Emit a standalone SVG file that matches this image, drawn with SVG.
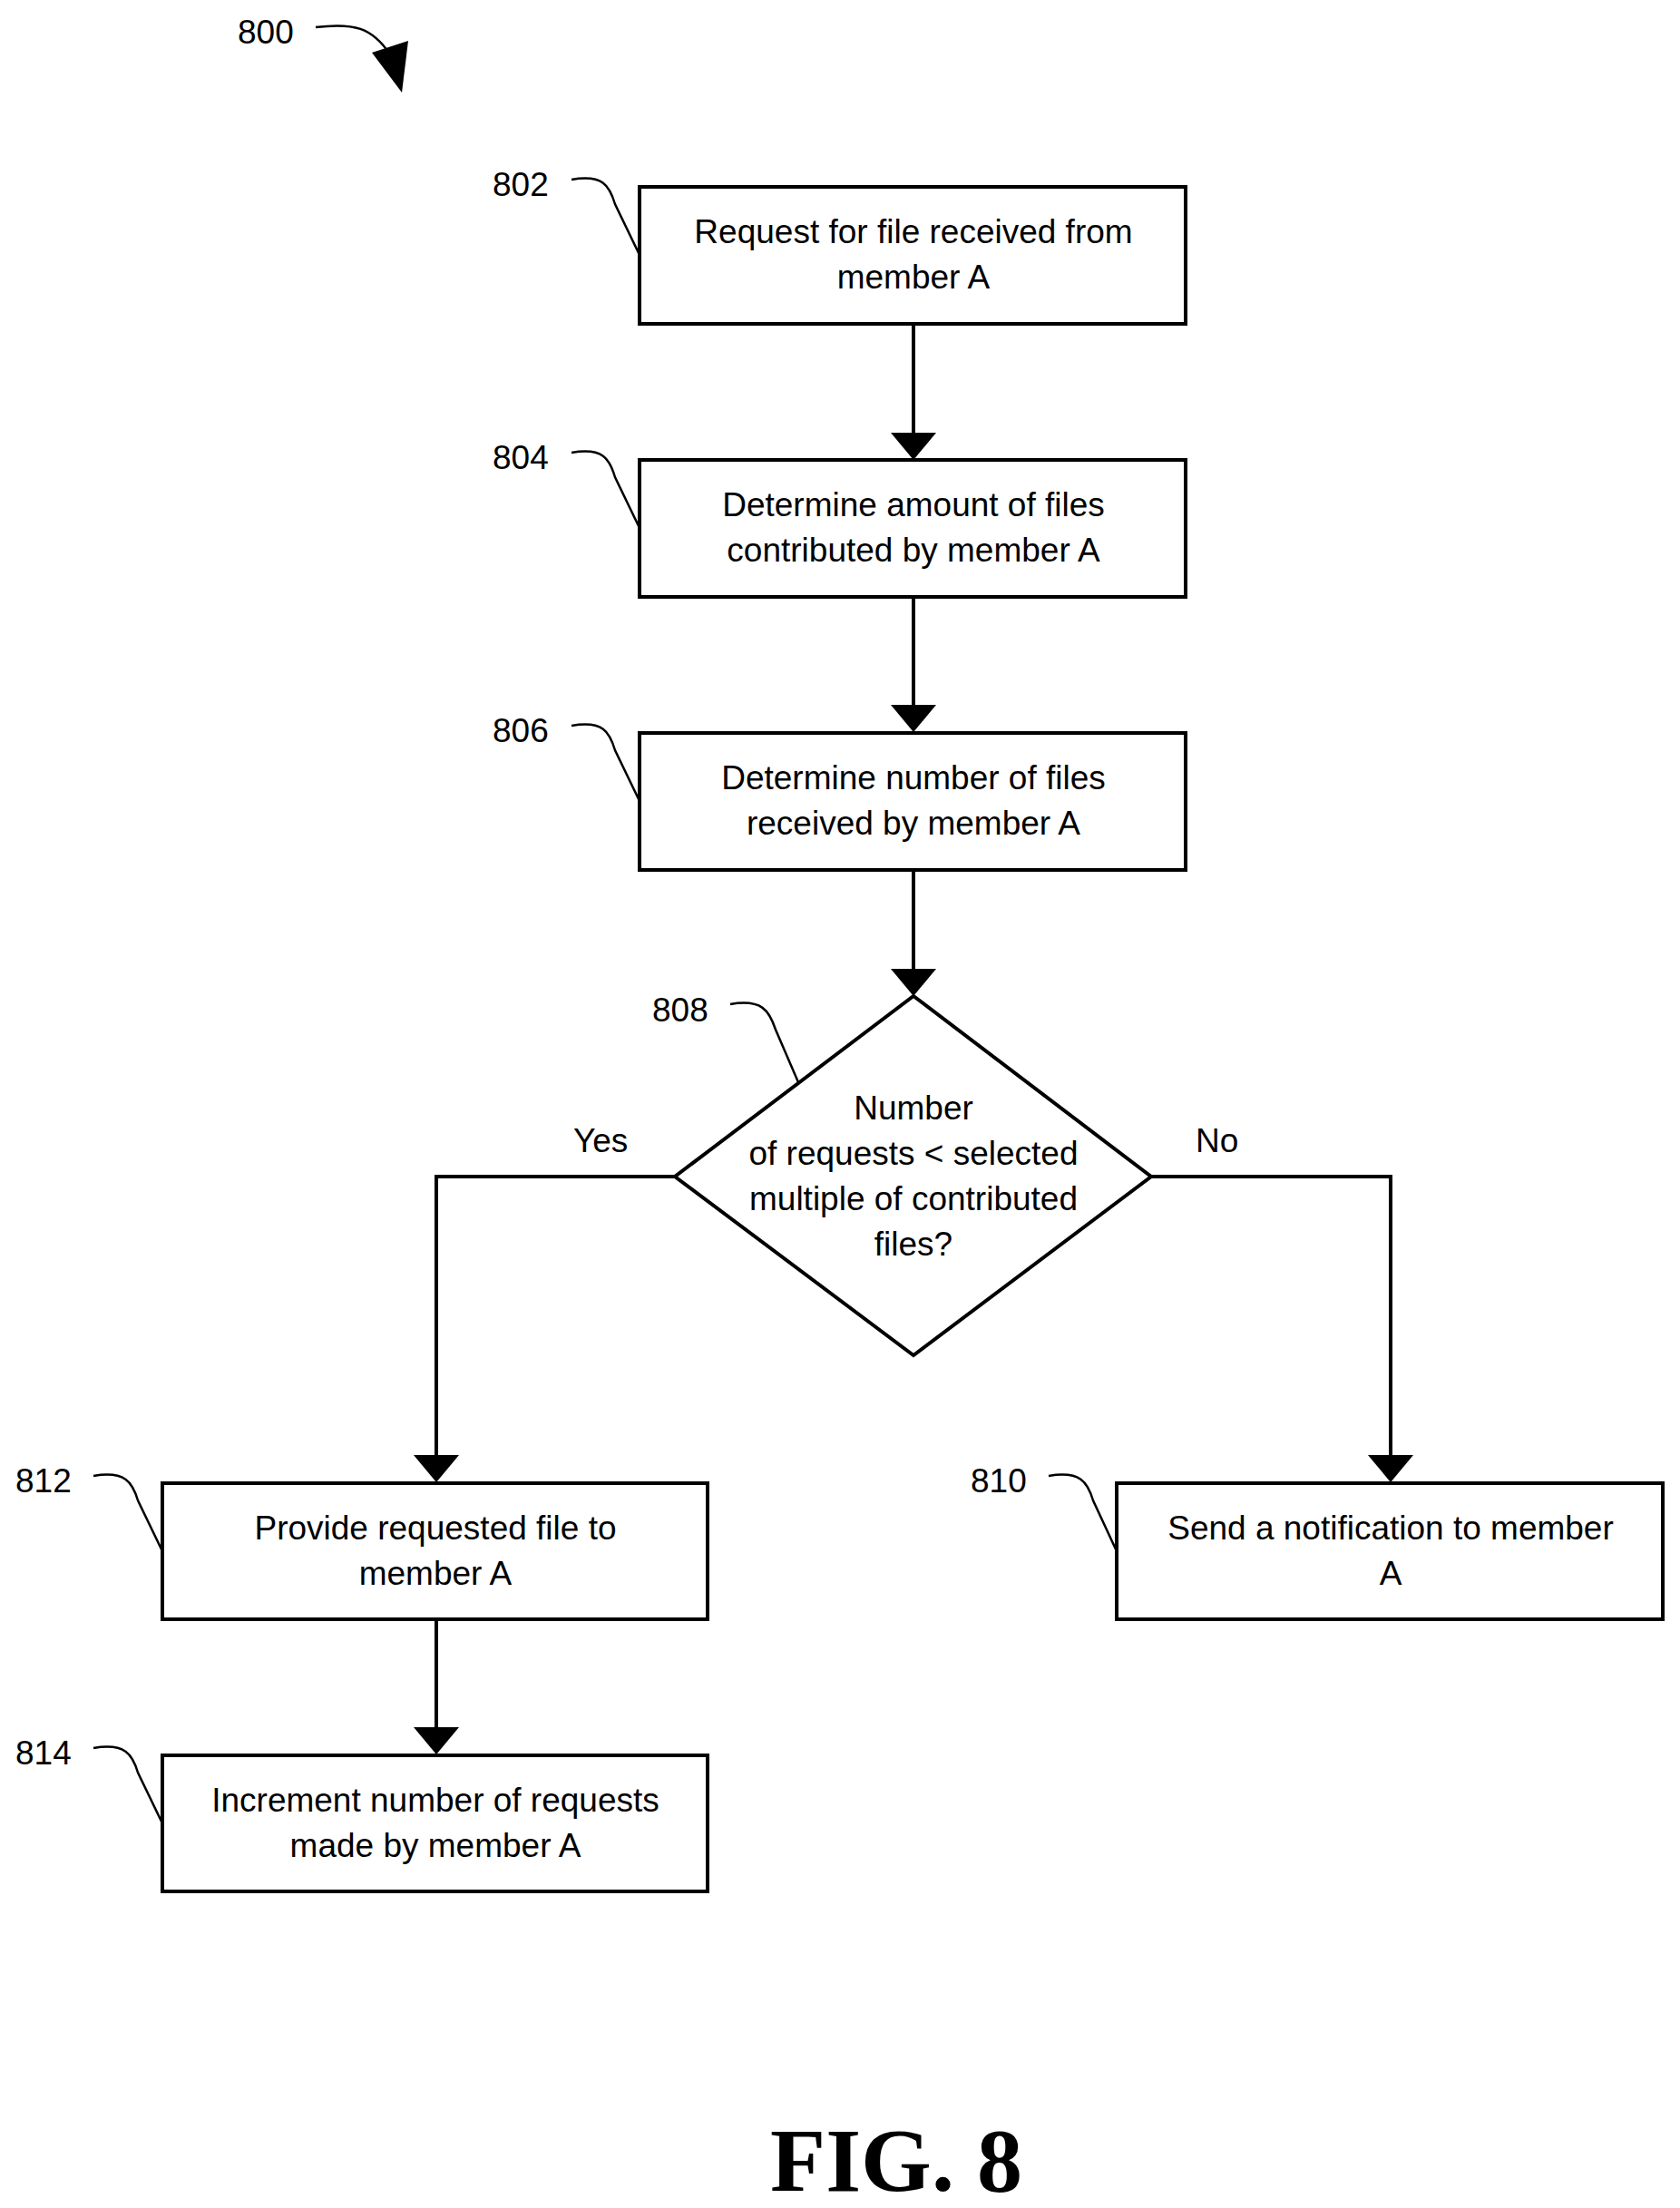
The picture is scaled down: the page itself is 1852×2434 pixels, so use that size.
<svg xmlns="http://www.w3.org/2000/svg" width="1852" height="2434" viewBox="0 0 1852 2434">
<style>
.b{fill:#fff;stroke:#000;stroke-width:4}
.t{font-family:"Liberation Sans",Arial,sans-serif;font-size:37px;text-anchor:middle;fill:#000}
.l{font-family:"Liberation Sans",Arial,sans-serif;font-size:37px;fill:#000}
.c{fill:none;stroke:#000;stroke-width:4}
.ld{fill:none;stroke:#000;stroke-width:2.5}
</style>
<defs><marker id="a" markerWidth="10" markerHeight="14" refX="9" refY="7" orient="auto" markerUnits="userSpaceOnUse" viewBox="0 0 10 14"><path d="M0,0L10,7L0,14z" fill="#000"/></marker>
<marker id="a2" viewBox="0 0 30 50" refX="28" refY="25" markerWidth="30" markerHeight="50" orient="auto" markerUnits="userSpaceOnUse"><path d="M0,0L30,25L0,50z" fill="#000"/></marker></defs>
<rect width="1852" height="2434" fill="#fff"/>
<text class="l" x="262" y="48">800</text>
<path class="ld" d="M348,30 C390,25 410,30 430,60" />
<path d="M410,58 L450,45 L443,102 z" fill="#000"/>
<g id="connectors">
<line class="c" x1="1007" y1="358" x2="1007" y2="505" marker-end="url(#a2)"/>
<line class="c" x1="1007" y1="660" x2="1007" y2="805" marker-end="url(#a2)"/>
<line class="c" x1="1007" y1="960" x2="1007" y2="1096" marker-end="url(#a2)"/>
<polyline class="c" points="744,1297 481,1297 481,1632" marker-end="url(#a2)"/>
<polyline class="c" points="1269,1297 1533,1297 1533,1632" marker-end="url(#a2)"/>
<line class="c" x1="481" y1="1786" x2="481" y2="1932" marker-end="url(#a2)"/>
<text class="l" x="632" y="1270">Yes</text>
<text class="l" x="1318" y="1270">No</text>
</g>
<g id="n802"><rect class="b" x="705" y="206" width="602" height="151"/>
<text class="t" x="1007" y="268">Request for file received from</text><text class="t" x="1007" y="318">member A</text>
<text class="l" x="543" y="216">802</text><path class="ld" d="M630,198 C665,192 672,205 678,225 L705,281"/></g>
<g id="n804"><rect class="b" x="705" y="507" width="602" height="151"/>
<text class="t" x="1007" y="569">Determine amount of files</text><text class="t" x="1007" y="619">contributed by member A</text>
<text class="l" x="543" y="517">804</text><path class="ld" d="M630,499 C665,493 672,506 678,526 L705,582"/></g>
<g id="n806"><rect class="b" x="705" y="808" width="602" height="151"/>
<text class="t" x="1007" y="870">Determine number of files</text><text class="t" x="1007" y="920">received by member A</text>
<text class="l" x="543" y="818">806</text><path class="ld" d="M630,800 C665,794 672,807 678,827 L705,883"/></g>
<g id="n808"><polygon class="b" points="1007,1098 1269,1297 1007,1494 744,1297"/>
<text class="t" x="1007" y="1234">Number</text><text class="t" x="1007" y="1284">of requests &lt; selected</text><text class="t" x="1007" y="1334">multiple of contributed</text><text class="t" x="1007" y="1384">files?</text>
<text class="l" x="719" y="1126">808</text><path class="ld" d="M805,1107 C840,1101 848,1114 855,1135 L880,1193"/></g>
<g id="n812"><rect class="b" x="179" y="1635" width="601" height="150"/>
<text class="t" x="480" y="1697">Provide requested file to</text><text class="t" x="480" y="1747">member A</text>
<text class="l" x="17" y="1645">812</text><path class="ld" d="M103,1627 C138,1621 146,1634 152,1654 L179,1710"/></g>
<g id="n810"><rect class="b" x="1231" y="1635" width="602" height="150"/>
<text class="t" x="1533" y="1697">Send a notification to member</text><text class="t" x="1533" y="1747">A</text>
<text class="l" x="1070" y="1645">810</text><path class="ld" d="M1156,1627 C1191,1621 1199,1634 1205,1654 L1231,1710"/></g>
<g id="n814"><rect class="b" x="179" y="1935" width="601" height="150"/>
<text class="t" x="480" y="1997">Increment number of requests</text><text class="t" x="480" y="2047">made by member A</text>
<text class="l" x="17" y="1945">814</text><path class="ld" d="M103,1927 C138,1921 146,1934 152,1954 L179,2010"/></g>
<text x="988" y="2415" font-family="'Liberation Serif','Times New Roman',serif" font-weight="bold" font-size="100" text-anchor="middle">FIG. 8</text>
</svg>
